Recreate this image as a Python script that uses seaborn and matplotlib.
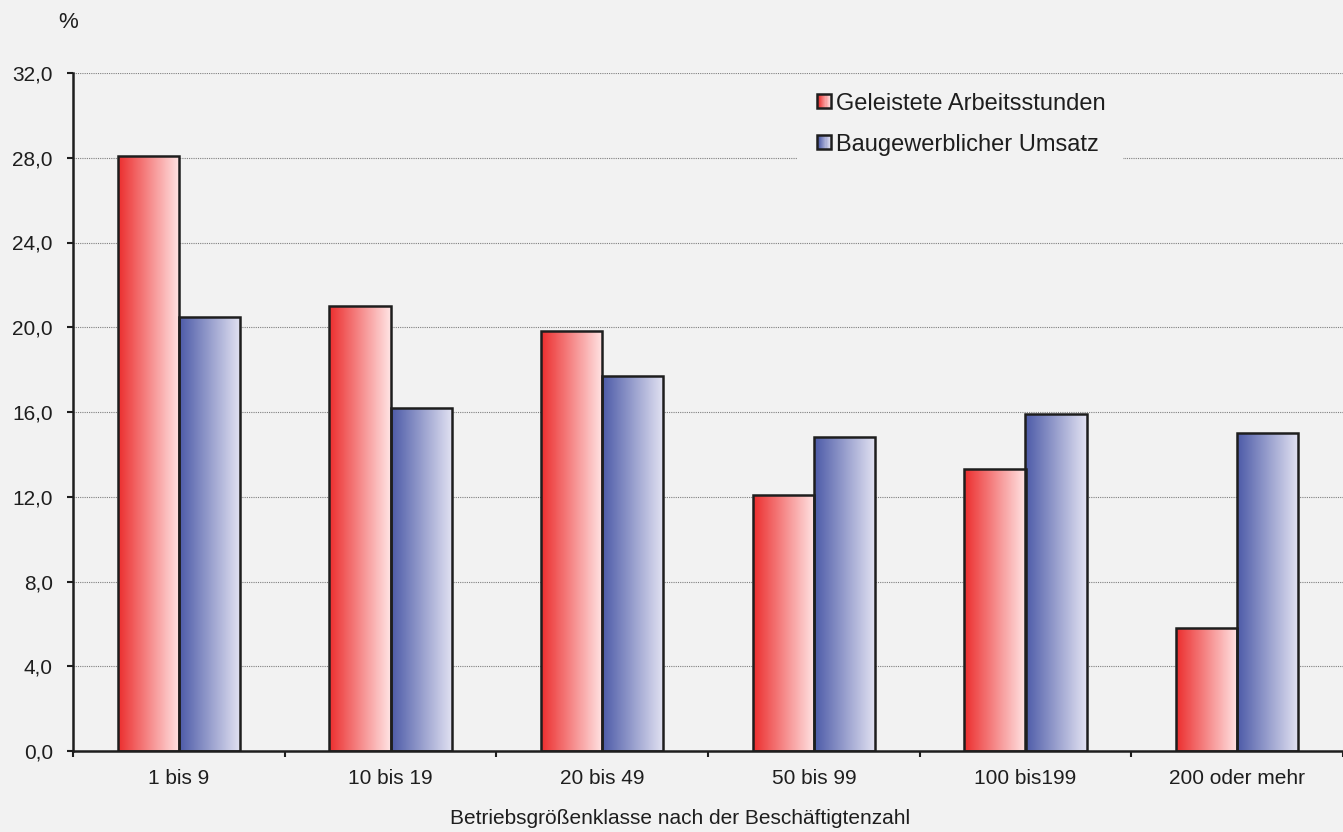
import numpy as np
import pandas as pd
import matplotlib
matplotlib.use("Agg")
import matplotlib.pyplot as plt
from matplotlib.colors import LinearSegmentedColormap
from matplotlib.patches import Rectangle, Patch
from matplotlib.legend_handler import HandlerBase
from matplotlib.ticker import FixedLocator, FuncFormatter
import seaborn as sns

klassen = ["1 bis 9", "10 bis 19", "20 bis 49", "50 bis 99", "100 bis199", "200 oder mehr"]
arbeitsstunden = [28.1, 21.0, 19.8, 12.1, 13.3, 5.8]
umsatz = [20.5, 16.2, 17.7, 14.8, 15.9, 15.0]
reihen = ["Geleistete Arbeitsstunden", "Baugewerblicher Umsatz"]
y_ticks = [0, 4, 8, 12, 16, 20, 24, 28, 32]

verlauf = {
    reihen[0]: ("#EC2F2F", "#FFE3E3"),
    reihen[1]: ("#4D5BA8", "#E2E2F2"),
}

df = pd.DataFrame({
    "klasse": klassen * 2,
    "wert": arbeitsstunden + umsatz,
    "reihe": [reihen[0]] * len(klassen) + [reihen[1]] * len(klassen),
})

bg = "#F2F2F2"
ink = "#1E1E1E"
sns.set_style("ticks")
plt.rcParams["font.family"] = ["Liberation Sans", "DejaVu Sans"]

fig = plt.figure(figsize=(13.43, 8.32), dpi=100, facecolor=bg)
ax = fig.add_axes([73 / 1343, 1 - 751 / 832, 1 - 73 / 1343, (751 - 73) / 832])
ax.set_facecolor(bg)

sns.barplot(data=df, x="klasse", y="wert", hue="reihe", order=klassen,
            hue_order=reihen, width=0.577, gap=0, ax=ax, legend=False)

# gradient fill for every bar, clipped to the bar
for cont, name in zip(ax.containers, reihen):
    cmap = LinearSegmentedColormap.from_list(name, verlauf[name])
    for bar in cont:
        bar.set_facecolor("none")
        bar.set_edgecolor(ink)
        bar.set_linewidth(1.8)
        bar.set_zorder(3)
        x0, y0 = bar.get_x(), bar.get_y()
        w, h = bar.get_width(), bar.get_height()
        img = ax.imshow(np.linspace(0, 1, 64).reshape(1, -1), cmap=cmap,
                        extent=[x0, x0 + w, y0, y0 + h], aspect="auto",
                        zorder=2, interpolation="bicubic")
        img.set_clip_path(bar)

ax.set_xlim(-0.5, len(klassen) - 0.5)
ax.set_ylim(0, 32)
ax.set_yticks(y_ticks)
ax.yaxis.set_major_formatter(FuncFormatter(lambda v, p: f"{v:.1f}".replace(".", ",")))
ax.yaxis.grid(True, linestyle=(0, (1, 1)), color="#7F7F7F", linewidth=0.8, zorder=0)
ax.set_axisbelow(True)

ax.xaxis.set_minor_locator(FixedLocator(np.arange(-0.5, len(klassen), 1.0)))
ax.tick_params(axis="x", which="major", length=0, pad=13, labelsize=15, colors=ink)
ax.tick_params(axis="x", which="minor", length=4.5, width=1.5, color=ink)
ax.tick_params(axis="y", length=4.5, width=1.5, labelsize=15, pad=10, color=ink,
               labelcolor=ink)

for side in ["top", "right"]:
    ax.spines[side].set_visible(False)
for side in ["left", "bottom"]:
    ax.spines[side].set_linewidth(1.8)
    ax.spines[side].set_color(ink)

ax.set_xlabel("")
ax.set_ylabel("")
fig.text(68 / 1343, 1 - 22 / 832, "%", ha="center", va="center", fontsize=16, color=ink)
fig.text(680 / 1343, 1 - 818 / 832, "Betriebsgrößenklasse nach der Beschäftigtenzahl",
         ha="center", va="center", fontsize=15, color=ink)


class VerlaufHandler(HandlerBase):
    def __init__(self, farben):
        super().__init__()
        self.farben = farben

    def create_artists(self, legend, orig_handle, xdescent, ydescent, width, height,
                       fontsize, trans):
        cmap = LinearSegmentedColormap.from_list("h", self.farben)
        s = height * 0.85
        x0 = -xdescent + width - s
        y0 = -ydescent + (height - s) / 2
        n = 12
        arts = []
        for i in range(n):
            arts.append(Rectangle((x0 + i * s / n, y0), s / n + 0.3, s,
                                  facecolor=cmap(i / (n - 1)), edgecolor="none",
                                  transform=trans))
        arts.append(Rectangle((x0, y0), s, s, facecolor="none", edgecolor=ink,
                              linewidth=1.8, transform=trans))
        return arts


handles = [Patch(label=r) for r in reihen]
leg = ax.legend(handles=handles, loc="upper left",
                bbox_to_anchor=((797 - 73) / 1270, 1 - 2 / 678), frameon=True,
                fontsize=17, handlelength=0.7, handletextpad=0.2, labelspacing=0.8,
                borderpad=0.75, borderaxespad=0,
                handler_map={h: VerlaufHandler(verlauf[h.get_label()]) for h in handles})
leg.get_frame().set_facecolor(bg)
leg.get_frame().set_edgecolor("none")
leg.get_frame().set_alpha(1)
leg.set_zorder(5)
for t in leg.get_texts():
    t.set_color(ink)

fig.savefig("out.png", dpi=100, facecolor=bg)
